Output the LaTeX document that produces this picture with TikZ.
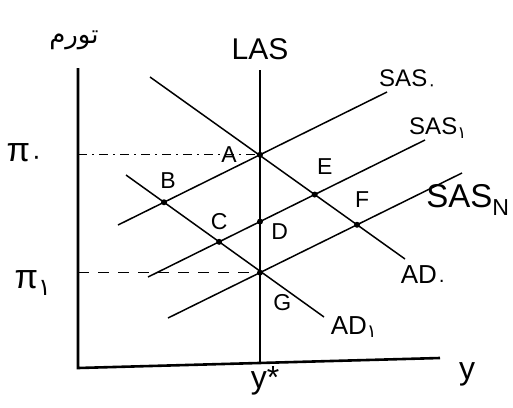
\documentclass[tikz,border=0pt]{standalone}
\usepackage{fontspec}
\setmainfont{Liberation Sans}
\setsansfont{Liberation Sans}
\newfontfamily\arabicfont[Script=Arabic]{DejaVu Sans}
\TeXXeTstate=1
\usetikzlibrary{positioning, intersections, calc}
\newcommand{\fa}[1]{{\arabicfont #1}}

\begin{document}
\begin{tikzpicture}[
        x=1pt, y=-1pt,
        every node/.style={font=\sffamily},
        % Estilos
        axis/.style={line width=2.6pt},
        curve/.style={line width=1.5pt},
        guide/.style={line width=1.2pt},
        point/.style={circle, fill=black, inner sep=0pt, minimum size=6pt},
        ptlabel/.style={inner sep=1pt, font=\sffamily\fontsize{23}{26}\selectfont},
        curvelabel/.style={inner sep=1pt, font=\sffamily\fontsize{24}{28}\selectfont}
        ]
    \useasboundingbox (0,0) rectangle (513,407);

    % --- Ejes ---
    \coordinate (ytop) at (78,68);
    \coordinate (origin) at (78,368);
    \coordinate (xend) at (440,358);
    \draw[axis] (ytop) -- (origin) -- (xend);

    % --- Curvas ---
    \coordinate (las_top) at (260,70);
    \coordinate (las_bot) at (260,363);
    \coordinate (ad0_s) at (150,77);
    \coordinate (ad0_e) at (405,259);
    \coordinate (ad1_s) at (126,175);
    \coordinate (ad1_e) at (324,317);
    \coordinate (sas0_s) at (118,225);
    \coordinate (sas0_e) at (387,92);
    \coordinate (sas1_s) at (148,277);
    \coordinate (sas1_e) at (425,140);
    \coordinate (sasn_s) at (168,318);
    \coordinate (sasn_e) at (462,173);

    \draw[curve, name path=las] (las_top) -- (las_bot);
    \draw[curve, name path=ad0] (ad0_s) -- (ad0_e);
    \draw[curve, name path=ad1] (ad1_s) -- (ad1_e);
    \draw[curve, name path=sas0] (sas0_s) -- (sas0_e);
    \draw[curve, name path=sas1] (sas1_s) -- (sas1_e);
    \draw[curve, name path=sasn] (sasn_s) -- (sasn_e);

    % --- Puntos de equilibrio ---
    \path[name intersections={of=las and sas0, by=A}];
    \path[name intersections={of=sas0 and ad1, by=B}];
    \path[name intersections={of=sas1 and ad1, by=C}];
    \path[name intersections={of=las and sas1, by=D}];
    \path[name intersections={of=sas1 and ad0, by=E}];
    \path[name intersections={of=sasn and ad0, by=F}];
    \path[name intersections={of=las and sasn, by=G}];

    % --- Guias de inflacion ---
    \coordinate (pi0) at (origin |- A);
    \coordinate (pi1) at (origin |- G);
    \draw[guide, dash pattern=on 9pt off 5pt on 2pt off 5pt] (pi0) -- (A);
    \draw[guide, dash pattern=on 11pt off 9pt] (pi1) -- (G);

    \node (dotA) [point] at (A) {};
    \node (dotB) [point] at (B) {};
    \node (dotC) [point] at (C) {};
    \node (dotD) [point] at (D) {};
    \node (dotE) [point] at (E) {};
    \node (dotF) [point] at (F) {};
    \node (dotG) [point] at (G) {};

    % --- Etiquetas de puntos ---
    \node (labA) [ptlabel, left=19pt of dotA] {A};
    \node (labB) [ptlabel, above=9pt of dotB, xshift=4pt] {B};
    \node (labC) [ptlabel, above=8pt of dotC] {C};
    \node (labD) [ptlabel, below right=-1pt and 8pt of dotD] {D};
    \node (labE) [ptlabel, above=16pt of dotE, xshift=10pt] {E};
    \node (labF) [ptlabel, above=13pt of dotF, xshift=5pt] {F};
    \node (labG) [ptlabel, below right=18pt and 10pt of dotG] {G};

    % --- Etiquetas de curvas y ejes ---
    \node (labLAS) [curvelabel, font=\sffamily\fontsize{30}{34}\selectfont, above=9pt of las_top] {LAS};
    \node (labSAS0) [curvelabel] at (408,80) {SAS\textsubscript{\fa{۰}}};
    \node (labSAS1) [curvelabel] at (438,128) {SAS\textsubscript{\fa{۱}}};
    \node (labSASN) [curvelabel, font=\sffamily\fontsize{33}{36}\selectfont] at (468,200) {SAS\textsubscript{N}};
    \node (labAD0) [curvelabel, font=\sffamily\fontsize{26}{30}\selectfont] at (424,276) {AD\textsubscript{\fa{۰}}};
    \node (labAD1) [curvelabel, font=\sffamily\fontsize{26}{30}\selectfont] at (354,327) {AD\textsubscript{\fa{۱}}};
    \node (labPi0) [curvelabel, font=\sffamily\fontsize{34}{38}\selectfont] at (25,154) {π\textsubscript{\fa{۰}}};
    \node (labPi1) [curvelabel, font=\sffamily\fontsize{34}{38}\selectfont] at (33,283) {π\textsubscript{\fa{۱}}};
    \node (labYstar) [curvelabel, font=\sffamily\fontsize{32}{36}\selectfont] at (265,381) {y*};
    \node (labY) [curvelabel, font=\sffamily\fontsize{32}{36}\selectfont] at (467,374) {y};
    \node (labInf) [curvelabel, font=\arabicfont\fontsize{26}{30}\selectfont] at (74,40) {\beginR تورم\endR};
\end{tikzpicture}
\end{document}
